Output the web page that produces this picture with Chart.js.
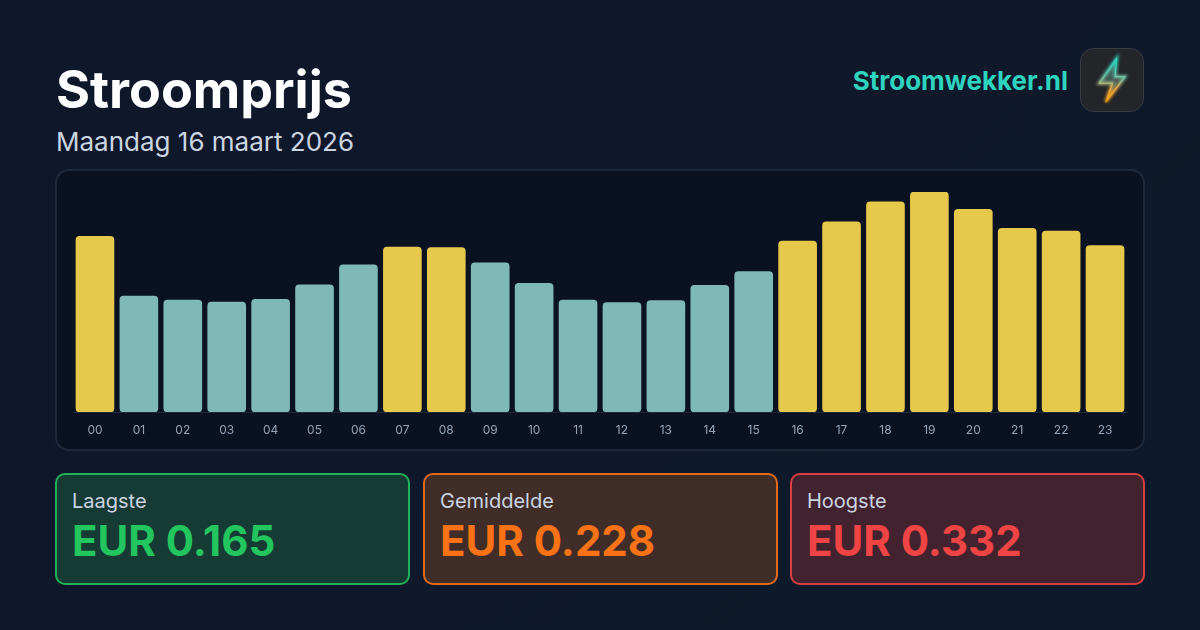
<!DOCTYPE html>
<html>
<head>
<meta charset="utf-8">
<script src="https://cdn.jsdelivr.net/npm/chart.js@4"></script>
<style>
* { box-sizing: border-box; margin: 0; padding: 0; }
html, body { width: 1200px; height: 630px; overflow: hidden; }
body { position: relative; font-family: Inter, sans-serif; background: linear-gradient(135deg, #0f172a 0%, #0e1a2b 100%); }
.abs { position: absolute; white-space: nowrap; }
#title { left: 56px; top: 58px; font-size: 52px; line-height: 63px; font-weight: 700; color: #fff; }
#subtitle { left: 56px; top: 126px; font-size: 26px; line-height: 32px; color: #cbd5e1; }
#brand { right: 132px; top: 64px; font-size: 26px; line-height: 34px; font-weight: 700; color: #2dd4bf; }
#logo { left: 1080px; top: 48px; width: 64px; height: 64px; border-radius: 14px; background: #232529; border: 1px solid #3a3c41; }
#panel { left: 55px; top: 169px; width: 1090px; height: 282px; border: 2px solid #1e293b; border-radius: 14px; background: #0a1120; }
#panel canvas { position: absolute; left: -1px; top: -1px; }
.card { position: absolute; top: 473px; width: 355px; height: 112px; border: 2px solid; border-radius: 10px; }
.card .lab { position: absolute; left: 15px; top: 13px; font-size: 20px; line-height: 26px; color: #cbd5e1; }
.card .val { position: absolute; left: 15px; top: 41px; font-size: 42px; line-height: 50px; font-weight: 700; }
</style>
</head>
<body>
<div class="abs" id="title">Stroomprijs</div>
<div class="abs" id="subtitle">Maandag 16 maart 2026</div>
<div class="abs" id="brand">Stroomwekker.nl</div>
<div class="abs" id="logo">
  <svg width="62" height="62" viewBox="0 0 62 62">
    <defs>
      <linearGradient id="bolt" x1="0" y1="0" x2="0" y2="1">
        <stop offset="0.1" stop-color="#2dd4bf"/>
        <stop offset="0.5" stop-color="#7fc4a0"/>
        <stop offset="0.7" stop-color="#f5a742"/>
        <stop offset="1" stop-color="#f59e0b"/>
      </linearGradient>
      <linearGradient id="boltFill" x1="0" y1="0" x2="0" y2="1">
        <stop offset="0" stop-color="#2dd4bf" stop-opacity="0.6"/>
        <stop offset="0.5" stop-color="#6b8f80" stop-opacity="0.45"/>
        <stop offset="1" stop-color="#f59e0b" stop-opacity="0.5"/>
      </linearGradient>
      <filter id="glow" x="-50%" y="-50%" width="200%" height="200%">
        <feGaussianBlur stdDeviation="1.8"/>
      </filter>
    </defs>
    <path d="M35.7 9.3 L18.3 34.3 L31.7 34 L25 52.7 L44 27.7 L34 27.7 Z" fill="none" stroke="url(#bolt)" stroke-width="3" filter="url(#glow)"/>
    <path d="M35.7 9.3 L18.3 34.3 L31.7 34 L25 52.7 L44 27.7 L34 27.7 Z" fill="url(#boltFill)" stroke="url(#bolt)" stroke-width="1.2" stroke-linejoin="round"/>
  </svg>
</div>
<div class="abs" id="panel"><canvas id="prices" width="1088" height="280" style="width:1088px;height:280px"></canvas></div>
<div id="cards"></div>

<script>
const hours = ['00','01','02','03','04','05','06','07','08','09','10','11','12','13','14','15','16','17','18','19','20','21','22','23'];
const prices = [0.265,0.175,0.169,0.166,0.170,0.192,0.222,0.249,0.248,0.225,0.194,0.169,0.165,0.168,0.191,0.212,0.258,0.287,0.317,0.332,0.306,0.277,0.273,0.251];
const cardLabels = ['Laagste','Gemiddelde','Hoogste'];
const cardValues = ['EUR 0.165','EUR 0.228','EUR 0.332'];
const average = 0.228;

const cardStyles = [
    { left: 55, border: '#22c55e', bg: '#163a34', text: '#22c55e' },
    { left: 423, border: '#f97316', bg: '#402d28', text: '#f97316' },
    { left: 790, border: '#ef4444', bg: '#43222f', text: '#ef4444' }
];

// Stat cards below the chart
const cards = document.getElementById('cards');
cardLabels.forEach(function(label, i) {
    const s = cardStyles[i];
    const card = document.createElement('div');
    card.className = 'card';
    card.style.left = s.left + 'px';
    card.style.borderColor = s.border + 'dd';
    card.style.background = s.bg;
    card.innerHTML = '<div class="lab">' + label + '</div><div class="val" style="color:' + s.text + '">' + cardValues[i] + '</div>';
    cards.appendChild(card);
});

Chart.defaults.font.family = 'Inter, sans-serif';

new Chart(document.getElementById('prices'), {
    type: 'bar',
    data: {
        labels: hours,
        datasets: [{
            data: prices,
            backgroundColor: prices.map(p => p > average ? '#e6c84a' : '#7fb8b9'),
            barThickness: 38,
            borderRadius: 4,
            borderSkipped: false
        }]
    },
    options: {
        responsive: false,
        animation: false,
        layout: { padding: { left: 17, right: 17, top: 22, bottom: 0 } },
        plugins: { legend: { display: false }, tooltip: { enabled: false } },
        scales: {
            x: {
                afterFit: function(scale) { scale.height = 38; },
                grid: { display: false, drawTicks: false },
                border: { display: true, color: '#1e293b', width: 1 },
                ticks: { color: '#94a3b8', font: { size: 12 }, padding: 11, maxRotation: 0, autoSkip: false }
            },
            y: { display: false, min: 0, max: 0.332 }
        }
    }
});
</script>
</body>
</html>
